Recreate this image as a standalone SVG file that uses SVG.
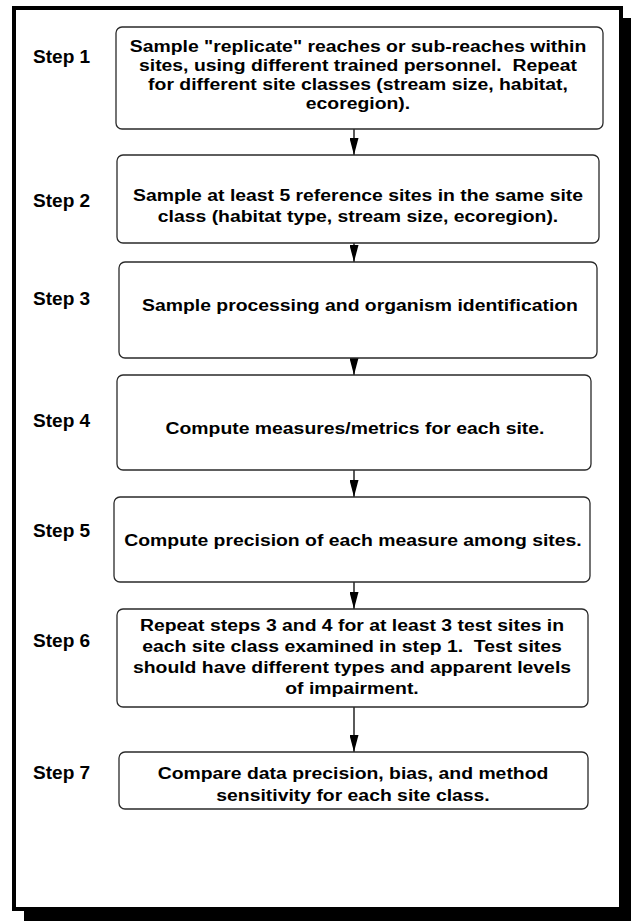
<svg xmlns="http://www.w3.org/2000/svg" width="631" height="921" viewBox="0 0 631 921">
<defs>
<style>
.box{fill:#fff;stroke:#2a2a2a;stroke-width:1.3}
.t{font-family:"Liberation Sans",Arial,sans-serif;font-weight:bold;font-size:17px;fill:#000;text-anchor:middle;white-space:pre}
.s{font-family:"Liberation Sans",Arial,sans-serif;font-weight:bold;font-size:17.5px;fill:#000}
.c{stroke:#000;stroke-width:1.3;fill:none;marker-end:url(#ah)}
</style>
<marker id="ah" markerUnits="userSpaceOnUse" markerWidth="17" markerHeight="9" refX="17" refY="4.5" orient="auto" viewBox="0 0 17 9">
<path d="M0,0 L17,4.5 L0,9 Z" fill="#000"/>
</marker>
</defs>
<rect x="24" y="18" width="607" height="903" fill="#000"/>
<rect x="14" y="8" width="607" height="901" fill="#fff" stroke="#000" stroke-width="4"/>

<g id="connectors">
<line class="c" x1="354" y1="129" x2="354" y2="155"/>
<line class="c" x1="354" y1="243" x2="354" y2="262"/>
<line class="c" x1="354" y1="358" x2="354" y2="375"/>
<line class="c" x1="354" y1="470" x2="354" y2="497"/>
<line class="c" x1="354" y1="582" x2="354" y2="609"/>
<line class="c" x1="354" y1="707" x2="354" y2="752"/>
</g>

<g id="step1">
<text class="s" transform="translate(33,63) scale(1.09,1)">Step 1</text>
<rect class="box" x="116" y="27" width="487" height="102" rx="6"/>
<text class="t" transform="translate(358,52) scale(1.14,1)">Sample "replicate" reaches or sub-reaches within</text>
<text class="t" transform="translate(358,71) scale(1.14,1)">sites, using different trained personnel.  Repeat</text>
<text class="t" transform="translate(358,90) scale(1.14,1)">for different site classes (stream size, habitat,</text>
<text class="t" transform="translate(358,109) scale(1.14,1)">ecoregion).</text>
</g>

<g id="step2">
<text class="s" transform="translate(33,207) scale(1.09,1)">Step 2</text>
<rect class="box" x="117" y="155" width="482" height="88" rx="6"/>
<text class="t" transform="translate(358,201) scale(1.14,1)">Sample at least 5 reference sites in the same site</text>
<text class="t" transform="translate(358,222) scale(1.14,1)">class (habitat type, stream size, ecoregion).</text>
</g>

<g id="step3">
<text class="s" transform="translate(33,305) scale(1.09,1)">Step 3</text>
<rect class="box" x="119" y="262" width="478" height="96" rx="6"/>
<text class="t" transform="translate(360,311) scale(1.14,1)">Sample processing and organism identification</text>
</g>

<g id="step4">
<text class="s" transform="translate(33,427) scale(1.09,1)">Step 4</text>
<rect class="box" x="117" y="375" width="474" height="95" rx="6"/>
<text class="t" transform="translate(355,434) scale(1.14,1)">Compute measures/metrics for each site.</text>
</g>

<g id="step5">
<text class="s" transform="translate(33,537) scale(1.09,1)">Step 5</text>
<rect class="box" x="114" y="497" width="476" height="85" rx="6"/>
<text class="t" transform="translate(353,546) scale(1.14,1)">Compute precision of each measure among sites.</text>
</g>

<g id="step6">
<text class="s" transform="translate(33,647) scale(1.09,1)">Step 6</text>
<rect class="box" x="117" y="609" width="471" height="98" rx="6"/>
<text class="t" transform="translate(352,631) scale(1.14,1)">Repeat steps 3 and 4 for at least 3 test sites in</text>
<text class="t" transform="translate(352,652) scale(1.14,1)">each site class examined in step 1.  Test sites</text>
<text class="t" transform="translate(352,673) scale(1.14,1)">should have different types and apparent levels</text>
<text class="t" transform="translate(352,694) scale(1.14,1)">of impairment.</text>
</g>

<g id="step7">
<text class="s" transform="translate(33,779) scale(1.09,1)">Step 7</text>
<rect class="box" x="119" y="752" width="469" height="57" rx="6"/>
<text class="t" transform="translate(353,779) scale(1.14,1)">Compare data precision, bias, and method</text>
<text class="t" transform="translate(353,801) scale(1.14,1)">sensitivity for each site class.</text>
</g>
</svg>
